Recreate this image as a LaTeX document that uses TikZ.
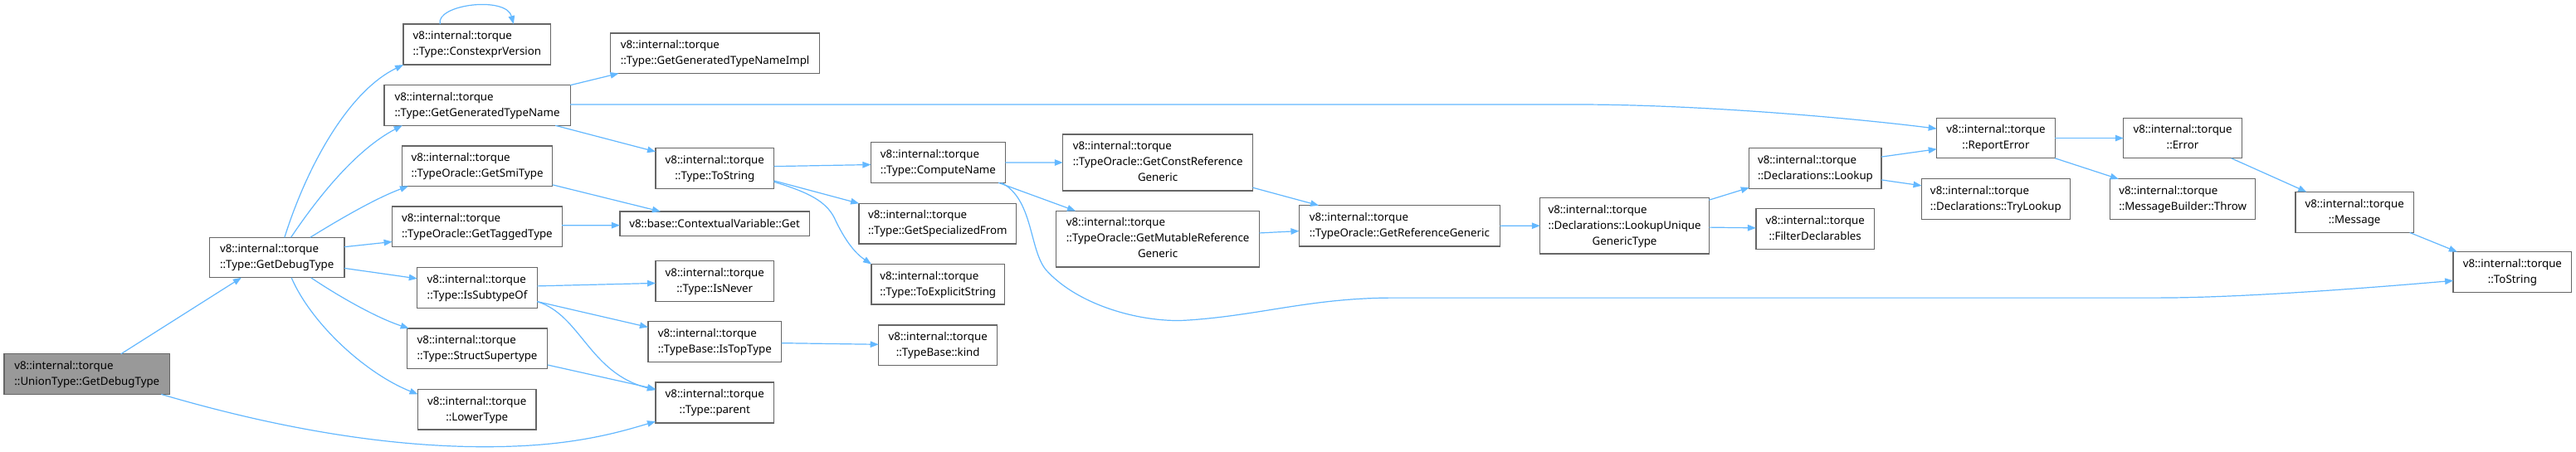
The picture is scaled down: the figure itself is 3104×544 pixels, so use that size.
\documentclass[tikz,border=0pt]{standalone}
\usepackage{fontspec}
\setmainfont{Noto Sans}
\usetikzlibrary{arrows.meta}
\definecolor{edgec}{HTML}{63B8FF}
\definecolor{boxc}{HTML}{666666}
\definecolor{rootc}{HTML}{999999}
\newcommand\lbltwo[2]{\begin{tabular}{@{}l@{}}#1\\\multicolumn{1}{@{}c@{}}{#2}\end{tabular}}
\newcommand\lblthree[3]{\begin{tabular}{@{}l@{}}#1\\#2\\\multicolumn{1}{@{}c@{}}{#3}\end{tabular}}
\begin{document}
\begin{tikzpicture}[x=1pt,y=-1pt,
  fnbox/.style={draw=boxc, line width=1.3pt, fill=white, rectangle, inner sep=0pt, outer sep=0pt,
    font=\fontsize{13.3}{19}\selectfont, text=black},
  rootbox/.style={fnbox, fill=rootc},
  cedge/.style={draw=edgec, line width=1.2pt, -{Triangle[length=10pt,width=7.5pt]}}]
\fill[white] (0,0) rectangle (3104,544);
\useasboundingbox (0,0) rectangle (3104,544);
\newcommand\nd[6]{\node[#1, minimum width=#4pt, minimum height=#5pt] (#2) at #3 {#6};}
\nd{rootbox}{ud}{(104.8,451.1)}{199.8}{48.6}{\lbltwo{v8::internal::torque}{::UnionType::GetDebugType}}
\nd{fnbox}{gdt}{(333.65,310.55)}{162.7}{48.5}{\lbltwo{v8::internal::torque}{::Type::GetDebugType}}
\nd{fnbox}{cev}{(574.85,53.6)}{177.5}{49}{\lbltwo{v8::internal::torque}{::Type::ConstexprVersion}}
\nd{fnbox}{ggtn}{(575.05,127)}{224.3}{48.6}{\lbltwo{v8::internal::torque}{::Type::GetGeneratedTypeName}}
\nd{fnbox}{smi}{(575.05,200.2)}{181.3}{48.6}{\lbltwo{v8::internal::torque}{::TypeOracle::GetSmiType}}
\nd{fnbox}{tag}{(574.9,273.4)}{204.6}{48.6}{\lbltwo{v8::internal::torque}{::TypeOracle::GetTaggedType}}
\nd{fnbox}{isub}{(575.05,347)}{144.5}{48.6}{\lbltwo{v8::internal::torque}{::Type::IsSubtypeOf}}
\nd{fnbox}{sst}{(575.05,420.2)}{169.5}{48.6}{\lbltwo{v8::internal::torque}{::Type::StructSupertype}}
\nd{fnbox}{low}{(574.75,493.75)}{142.5}{48.5}{\lbltwo{v8::internal::torque}{::LowerType}}
\nd{fnbox}{impl}{(861.6,64.2)}{252.2}{48.6}{\lbltwo{v8::internal::torque}{::Type::GetGeneratedTypeNameImpl}}
\nd{fnbox}{tstr}{(861.3,203)}{142.6}{48.6}{\lbltwo{v8::internal::torque}{::Type::ToString}}
\nd{fnbox}{cvg}{(861.05,269.75)}{228.3}{29.5}{v8::base::ContextualVariable::Get}
\nd{fnbox}{nev}{(861.3,339)}{142.6}{48.6}{\lbltwo{v8::internal::torque}{::Type::IsNever}}
\nd{fnbox}{top}{(861.25,412.05)}{160.7}{48.9}{\lbltwo{v8::internal::torque}{::TypeBase::IsTopType}}
\nd{fnbox}{par}{(861.3,485.6)}{142.6}{49}{\lbltwo{v8::internal::torque}{::Type::parent}}
\nd{fnbox}{cn}{(1130.4,196.05)}{162}{48.5}{\lbltwo{v8::internal::torque}{::Type::ComputeName}}
\nd{fnbox}{gsf}{(1129.8,269.6)}{189.4}{48.6}{\lbltwo{v8::internal::torque}{::Type::GetSpecializedFrom}}
\nd{fnbox}{tes}{(1130.2,342.8)}{160.4}{48.6}{\lbltwo{v8::internal::torque}{::Type::ToExplicitString}}
\nd{fnbox}{kind}{(1130.2,416.4)}{143}{48.6}{\lbltwo{v8::internal::torque}{::TypeBase::kind}}
\nd{fnbox}{gcrg}{(1395.15,196)}{228.7}{68}{\lblthree{v8::internal::torque}{::TypeOracle::GetConstReference}{Generic}}
\nd{fnbox}{gmrg}{(1395.15,288.15)}{244.7}{67.7}{\lblthree{v8::internal::torque}{::TypeOracle::GetMutableReference}{Generic}}
\nd{fnbox}{grg}{(1686.4,272.35)}{242}{49.3}{\lbltwo{v8::internal::torque}{::TypeOracle::GetReferenceGeneric}}
\nd{fnbox}{lug}{(1957.55,272.2)}{203.5}{67.6}{\lblthree{v8::internal::torque}{::Declarations::LookupUnique}{GenericType}}
\nd{fnbox}{lk}{(2187.45,203)}{159.3}{48.6}{\lbltwo{v8::internal::torque}{::Declarations::Lookup}}
\nd{fnbox}{fd}{(2187.15,276.05)}{142.5}{48.9}{\lbltwo{v8::internal::torque}{::FilterDeclarables}}
\nd{fnbox}{re}{(2404.95,166.55)}{142.5}{48.5}{\lbltwo{v8::internal::torque}{::ReportError}}
\nd{fnbox}{tl}{(2404.9,240.25)}{178.8}{48.9}{\lbltwo{v8::internal::torque}{::Declarations::TryLookup}}
\nd{fnbox}{err}{(2630.05,166.55)}{142.5}{48.5}{\lbltwo{v8::internal::torque}{::Error}}
\nd{fnbox}{thr}{(2630.1,240.25)}{174.8}{48.9}{\lbltwo{v8::internal::torque}{::MessageBuilder::Throw}}
\nd{fnbox}{msg}{(2837.15,255.9)}{142.5}{49}{\lbltwo{v8::internal::torque}{::Message}}
\nd{fnbox}{ts}{(3027.35,328.05)}{142.5}{48.9}{\lbltwo{v8::internal::torque}{::ToString}}
% edges
\draw[cedge] ([xshift=40.9pt]ud.north) -- ([xshift=-42.8pt]gdt.south);
\draw[cedge] ([xshift=89.5pt]ud.south) .. controls (380,530) and (520,542) .. (620,538) .. controls (700,535) and (750,520) .. ([yshift=2pt]par.south west);
\draw[cedge] ([xshift=9.2pt]gdt.north) .. controls (370,200) and (420,110) .. (cev.south west);
\draw[cedge] ([xshift=16.9pt]gdt.north) .. controls (385,235) and (430,180) .. ([xshift=21.8pt]ggtn.south west);
\draw[cedge] ([xshift=40.1pt]gdt.north) .. controls (400,270) and (450,240) .. ([xshift=7.6pt]smi.south west);
\draw[cedge] ([yshift=12.85pt]gdt.east) -- ([yshift=-18.1pt]tag.west);
\draw[cedge] ([yshift=-12.85pt]gdt.east) -- ([yshift=11.1pt]isub.west);
\draw[cedge] ([xshift=41.1pt]gdt.south) .. controls (400,352) and (450,382) .. ([xshift=2.4pt]sst.north west);
\draw[cedge] ([xshift=17.5pt]gdt.south) .. controls (375,390) and (440,450) .. ([yshift=-5.9pt]low.north west);
\draw[cedge] ([xshift=-44.7pt]cev.north) .. controls (525,5) and (610,-5) .. ([xshift=44pt]cev.north);
\draw[cedge] (ggtn.north east) -- ([xshift=10pt]impl.south west);
\draw[cedge] ([yshift=1pt]ggtn.east) -- (1900,126) .. controls (2050,126) and (2233,142.5) .. ([yshift=11.4pt]re.west);
\draw[cedge] ([xshift=-18pt]ggtn.south east) -- ([yshift=-4.2pt]tstr.north west);
\draw[cedge] ([yshift=1.7pt]smi.south east) -- ([xshift=49pt]cvg.north west);
\draw[cedge] ([yshift=1.7pt]tag.east) -- ([yshift=-1.9pt]cvg.west);
\draw[cedge] ([yshift=2.1pt]isub.east) -- ([yshift=-2.4pt]nev.west);
\draw[cedge] ([yshift=-16.6pt]isub.east) -- ([yshift=-6.9pt]top.north west);
\draw[cedge] ([yshift=-16.6pt]isub.east) .. controls (700,380) and (710,450) .. ([yshift=-9.1pt]par.north west);
\draw[cedge] ([yshift=4.5pt]sst.south east) -- ([yshift=-8pt]par.north west);
\draw[cedge] ([yshift=2.4pt]tstr.east) -- ([yshift=-2.5pt]cn.west);
\draw[cedge] ([yshift=-14.9pt]tstr.east) -- (gsf.north west);
\draw[cedge] ([yshift=-16.3pt]tstr.east) .. controls (975,232) and (995,243) .. (1005,262) .. controls (1018,290) and (1030,305) .. (tes.north west);
\draw[cedge] ([yshift=-1.6pt]top.east) -- ([yshift=1.1pt]kind.west);
\draw[cedge] (cn.east) -- (gcrg.west);
\draw[cedge] ([xshift=-8.3pt]cn.south east) -- ([xshift=23.2pt]gmrg.north west);
\draw[cedge] ([xshift=-4.8pt]cn.south east) .. controls (1245,240) and (1240,300) .. (1260,325) .. controls (1300,370) and (1380,390) .. (1432,386) .. controls (1520,380) and (1580,359.1) .. (1680,359.1) -- (2600,359.1) .. controls (2700,359.1) and (2854,347.2) .. ([yshift=-10.3pt]ts.west);
\draw[cedge] ([yshift=3.8pt]gcrg.south east) -- ([xshift=23.6pt]grg.north west);
\draw[cedge] ([yshift=7.2pt]gmrg.east) -- ([yshift=-6.2pt]grg.west);
\draw[cedge] (grg.east) -- (lug.west);
\draw[cedge] ([yshift=-2.8pt]lug.north east) -- ([yshift=1.1pt]lk.south west);
\draw[cedge] ([yshift=-1.9pt]lug.east) -- ([yshift=1.2pt]fd.west);
\draw[cedge] ([yshift=13.9pt]lk.east) -- ([yshift=-13.2pt]re.west);
\draw[cedge] ([yshift=-13.9pt]lk.east) -- ([yshift=16.4pt]tl.west);
\draw[cedge] (re.east) -- (err.west);
\draw[cedge] (re.south east) -- ([xshift=10.1pt]thr.north west);
\draw[cedge] ([xshift=-12.7pt]err.south east) -- ([xshift=13.4pt]msg.north west);
\draw[cedge] ([xshift=-4.8pt]msg.south east) -- ([xshift=4.7pt]ts.north west);
\end{tikzpicture}
\end{document}
